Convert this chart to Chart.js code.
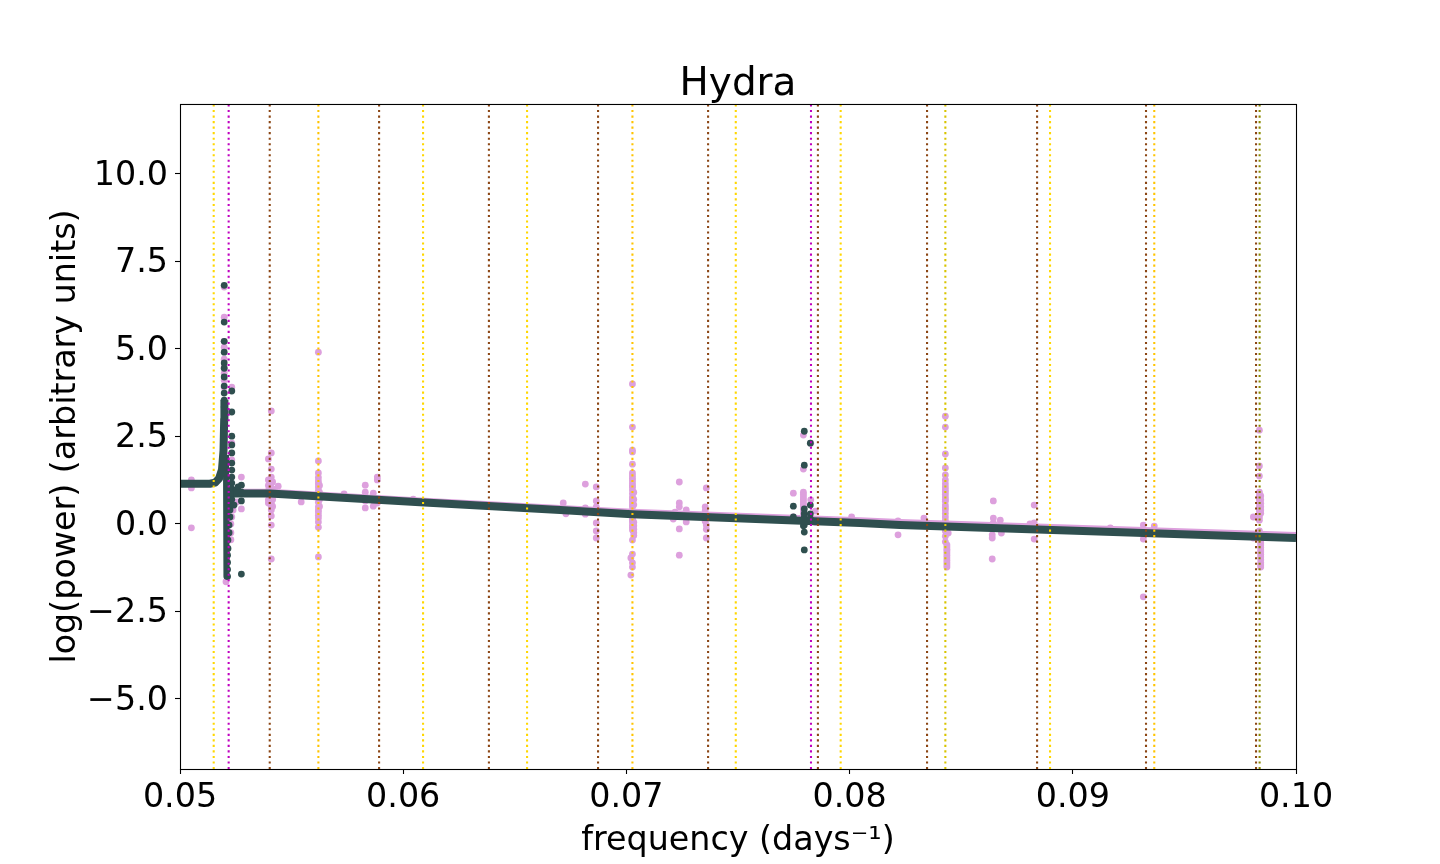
<!DOCTYPE html>
<html>
<head>
<meta charset="utf-8">
<style>html,body{margin:0;padding:0;background:#fff}canvas{display:block}</style>
<script src="https://cdn.jsdelivr.net/npm/chart.js@4"></script>
</head>
<body>
<canvas id="c" width="1440" height="864"></canvas>
<script>
const titleText = "Hydra";
const xTitle = "frequency (days\u207B\u00B9)";
const yTitle = "log(power) (arbitrary units)";
const xTicks = [0.05,0.06,0.07,0.08,0.09,0.10];
const yTicks = [-5,-2.5,0,2.5,5,7.5,10];
const xRange = [0.05,0.10];
const yRange = [-7,12];

const goldLines = [0.05151,0.06089,0.06555,0.07490,0.07960,0.08898];
const amberLines = [0.05620,0.07027,0.09365];
const yellowOliveLines = [0.08429];
const oliveLines = [0.09837];
const brownLines = [0.05402,0.05892,0.06384,0.06873,0.07366,0.07858,0.08347,0.08840,0.09328,0.09821];
const magentaLines = [0.05218,0.07827];

const bandFreq = [0.05238,0.05403,0.06075,0.06703,0.07025,0.08047,0.08226,0.10];
const darkBandPower = [0.87,0.87,0.62,0.40,0.28,0.03,-0.03,-0.40];
const pinkBandPower = [0.89,0.89,0.64,0.43,0.32,0.08,0.03,-0.34];
const riseFreq = [0.05,0.05134,0.05157,0.05175,0.05188,0.05195,0.05198,0.05199];
const risePower = [1.15,1.15,1.18,1.30,1.55,2.10,3.00,3.55];
const dropFreq = [0.05206,0.05207,0.05208];
const dropPower = [1.97,0.2,-1.5];

// pink points, one list of powers per frequency column
const pinkColumnFreq = [0.05051,0.05198,0.05206,0.05228,0.05232,0.05238,0.05254,0.05275,0.05396,0.05409,0.05415,0.05440,0.05543,
0.05620,0.05625,0.05735,0.05830,0.05866,0.05884,0.06045,0.06717,0.06729,0.06816,0.06865,0.07027,0.07033,0.07020,
0.07210,0.07218,0.07237,0.07268,0.07353,0.07358,0.07748,0.07793,0.07826,0.07846,0.08009,0.08217,0.08333,
0.08429,0.08436,0.08442,0.08639,0.08644,0.08675,0.08680,0.08808,0.08827,0.09168,0.09316,0.09365,0.09809,0.09836,0.09842];
const pinkColumnPower = [
[1.26,1.03,-0.11],
[6.77,5.91,5.22,5.05,4.71,4.48,4.31,4.11,3.91],
[-1.65],
[0.00,-0.25,-0.45],
[3.91,2.31,1.83,0.20],
[0.40],
[0.63],
[1.34,0.43],
[1.86,1.26,1.1,0.95,0.69,0.6],
[3.23,2.03,1.57,1.34,1.17,1.03,0.9,0.8,0.7,0.60,0.50,0.40,0.23,-0.03,-1.00],
[1.2,1.0,0.7,0.5],
[1.08],
[0.63],
[4.91,1.80,1.46,1.33,1.23,1.15,1.06,0.95,0.75,0.62,0.49,0.40,0.34,0.25,0.17,0.06,-0.09,-0.94],
[1.1,0.9,0.7,0.5],
[0.86],
[1.11,0.91,0.66,0.46],
[0.88,0.51],
[1.34,1.26,0.60],
[0.71],
[0.60],
[0.29],
[1.14,0.46,0.28],
[1.06,0.66,0.49,0.03,-0.20,-0.40],
[4.00,2.77,2.11,2.06,1.71,1.46,1.38,1.31,1.24,1.17,1.10,1.05,0.97,0.87,0.77,0.70,0.63,0.55,0.49,0.38,0.15,0.11,0.06,-0.03,-0.10,-0.17,-0.46,-0.86,-1.11,-1.23],
[0.9,0.7,0.55,0.05,-0.05,-0.15,-0.25,-0.33],
[-0.97,-1.46],
[0.14],
[0.34],
[1.20,0.60,0.49,-0.14,-0.89],
[0.40,0.06],
[0.49,0.38,0.20,0.08],
[1.03,-0.03,-0.15,-0.40],
[0.88,0.20],
[2.54,1.57,0.91,0.84,0.77,0.70,0.63,0.56,0.49,0.42,0.35,0.27,0.20],
[2.31,0.69,0.10],
[0.37,0.05],
[0.20],
[-0.31,0.09],
[0.17],
[3.08,2.77,2.00,1.60,1.40,1.26,1.15,1.06,0.98,0.92,0.85,0.77,0.70,0.65,0.54,0.47,0.40,0.30,0.20,0.10,-0.20,-0.35,-0.51],
[-0.60,-0.66,-0.72,-0.77,-0.83,-0.90,-0.97,-1.04,-1.11,-1.17,-1.23],
[-0.26],
[-0.31,-0.40,-1.00],
[0.66,0.17,0.03],
[0.11],
[-0.26],
[0.00],
[0.54,0.03,-0.43],
[-0.11],
[-0.03,-0.43,-2.08],
[-0.06],
[0.20,-0.40],
[2.68,1.66,1.37,0.91,0.80,0.74,0.69,0.59,0.49,0.40,0.31,0.20,0.11,-0.20,-0.30],
[0.80,0.69,0.59,0.49,0.40,0.31,-0.40,-0.47,-0.54,-0.60,-0.67,-0.74,-0.80,-0.87,-0.94,-1.02,-1.11,-1.17,-1.23]
];
// dark points, same layout
const darkColumnFreq = [0.05198,0.05213,0.05215,0.05220,0.05224,0.05226,0.05232,0.05242,0.05251,0.05260,0.05275,0.07748,0.07793,0.07797,0.07824];
const darkColumnPower = [
[6.82,5.77,5.22,4.91,4.60,4.45,4.20,3.94,3.74,3.54,3.34],
[-0.89,-1.1,-1.3,-1.5],
[-0.46,-0.7],
[-0.03,-0.25],
[0.40,0.2],
[0.69,0.55],
[3.80,3.20,2.51,2.26,2.03,1.74,1.54,1.34,1.17,1.0,0.85,0.7],
[0.54],
[0.97],
[1.06],
[1.11,0.91,0.66,-1.43],
[0.51,0.20],
[0.10,-0.05],
[2.65,1.68,0.43,0.30,0.20,0.10,-0.03,-0.23,-0.74],
[2.31,0.54,0.29,0.15]
];

const GOLD="#ffd700", AMBER="#ffc400", YOLIVE="#d8c400", OLIVE="#8a8a00", BROWN="#8b4513", MAGENTA="#c000c0";
const PINK="#dda0dd", DARK="#2f4f4f";

const pairs = (xs,ys)=>xs.map((x,i)=>({x,y:ys[i]}));
const columns = (fs,ps)=>fs.flatMap((x,i)=>ps[i].map(y=>({x,y})));
const vline = (f,color)=>({
  data:[{x:f,y:yRange[0]},{x:f,y:yRange[1]}],
  showLine:true,borderColor:color,borderWidth:2.08,borderDash:[2.08,3.44],
  borderCapStyle:"butt",pointRadius:0,fill:false
});
const band = (xs,ys,color,w)=>({
  data:pairs(xs,ys),showLine:true,borderColor:color,borderWidth:w,
  borderJoinStyle:"round",borderCapStyle:"butt",pointRadius:0,fill:false
});
const dots = (data,color,r)=>({
  data,showLine:false,backgroundColor:color,borderWidth:0,pointRadius:r
});

const datasets = [
  ...magentaLines.map(f=>vline(f,MAGENTA)),
  ...oliveLines.map(f=>vline(f,OLIVE)),
  ...yellowOliveLines.map(f=>vline(f,YOLIVE)),
  ...brownLines.map(f=>vline(f,BROWN)),
  ...amberLines.map(f=>vline(f,AMBER)),
  ...goldLines.map(f=>vline(f,GOLD)),
  band(bandFreq,darkBandPower,DARK,8),
  band(riseFreq,risePower,DARK,8),
  band(dropFreq,dropPower,DARK,6),
  dots(columns(darkColumnFreq,darkColumnPower),DARK,3.4),
  band(bandFreq,pinkBandPower,PINK,8),
  dots(columns(pinkColumnFreq,pinkColumnPower),PINK,3.4)
];

const frame = {
  id:"frame",
  afterDraw(chart){
    const a=chart.chartArea, g=chart.ctx;
    g.save();g.strokeStyle="#000";g.lineWidth=1.1;
    g.strokeRect(a.left+0.5,a.top+0.5,a.right-a.left,a.bottom-a.top);
    g.restore();
  }
};
const FONT='"DejaVu Sans"';
new Chart(document.getElementById("c"),{
  type:"scatter",
  data:{datasets},
  plugins:[frame],
  options:{
    responsive:false,animation:false,devicePixelRatio:1,
    layout:{padding:{left:0,right:144,top:0,bottom:0}},
    plugins:{
      legend:{display:false},tooltip:{enabled:false},
      title:{display:true,text:titleText,color:"#000",fullSize:false,
        font:{family:FONT,size:38.9,weight:"normal"},padding:{top:62,bottom:-4.7}}
    },
    scales:{
      x:{type:"linear",min:xRange[0],max:xRange[1],
        afterBuildTicks(s){s.ticks=xTicks.map(v=>({value:v}));},
        afterFit(s){s.height=95;},
        grid:{drawOnChartArea:false,drawTicks:true,tickLength:5,tickColor:"#000",tickWidth:1.1},
        border:{display:false},
        ticks:{color:"#000",font:{family:FONT,size:33.33},padding:4,maxRotation:0,autoSkip:false,
          callback:v=>Number(v).toFixed(2)},
        title:{display:true,text:xTitle,color:"#000",font:{family:FONT,size:33.33},padding:{top:0,bottom:3}}
      },
      y:{type:"linear",min:yRange[0],max:yRange[1],
        afterBuildTicks(s){s.ticks=yTicks.map(v=>({value:v}));},
        afterFit(s){s.width=180;},
        grid:{drawOnChartArea:false,drawTicks:true,tickLength:5,tickColor:"#000",tickWidth:1.1},
        border:{display:false},
        ticks:{color:"#000",font:{family:FONT,size:33.33},padding:7,autoSkip:false,labelOffset:2,
          callback:v=>(v<0?"\u2212":"")+Math.abs(v).toFixed(1)},
        title:{display:true,text:yTitle,color:"#000",font:{family:FONT,size:33.33},padding:{top:46,bottom:0}}
      }
    }
  }
});
</script>
</body>
</html>
